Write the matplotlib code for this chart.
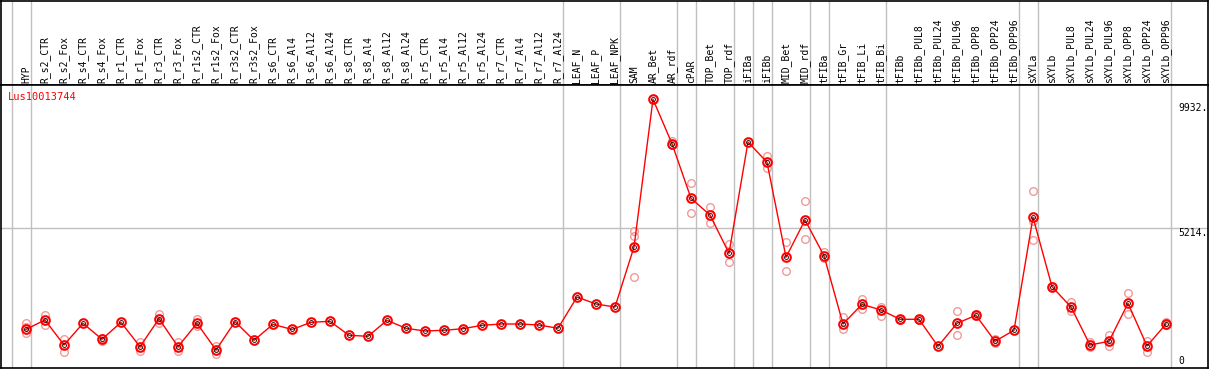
import numpy as np
import matplotlib
matplotlib.use("Agg")
import matplotlib.pyplot as plt
import matplotlib.transforms as mtransforms

labels = ["HYP", "R_s2_CTR", "R_s2_Fox", "R_s4_CTR", "R_s4_Fox", "R_r1_CTR", "R_r1_Fox",
          "R_r3_CTR", "R_r3_Fox", "R_r1s2_CTR", "R_r1s2_Fox", "R_r3s2_CTR", "R_r3s2_Fox",
          "R_s6_CTR", "R_s6_Al4", "R_s6_Al12", "R_s6_Al24", "R_s8_CTR", "R_s8_Al4",
          "R_s8_Al12", "R_s8_Al24", "R_r5_CTR", "R_r5_Al4", "R_r5_Al12", "R_r5_Al24",
          "R_r7_CTR", "R_r7_Al4", "R_r7_Al12", "R_r7_Al24", "LEAF_N", "LEAF_P", "LEAF_NPK",
          "SAM", "AR_Bet", "AR_rdf", "cPAR", "TOP_Bet", "TOP_rdf", "iFIBa", "iFIBb",
          "MID_Bet", "MID_rdf", "tFIBa", "tFIB_Gr", "tFIB_Li", "tFIB_Bi", "tFIBb",
          "tFIBb_PUL8", "tFIBb_PUL24", "tFIBb_PUL96", "tFIBb_OPP8", "tFIBb_OPP24",
          "tFIBb_OPP96", "sXYLa", "sXYLb", "sXYLb_PUL8", "sXYLb_PUL24", "sXYLb_PUL96",
          "sXYLb_OPP8", "sXYLb_OPP24", "sXYLb_OPP96"]

means = [1400, 1751, 808, 1627, 1023, 1664, 744, 1800, 744, 1627, 619, 1687, 985,
         1589, 1393, 1664, 1702, 1174, 1136, 1740, 1438, 1336, 1363, 1423, 1551,
         1600, 1600, 1563, 1438, 2619, 2355, 2242,
         4507, 10081, 8406, 6345, 5714, 4269, 8470, 7704, 4118, 5526, 4178,
         1600, 2344, 2129, 1778, 1778, 759, 1627, 1929, 947, 1363,
         5628, 3008, 2242, 808, 947, 2382, 770, 1600]

reps = [[1627, 1487, 1261], [1929, 1574], [1034, 532], [], [1072, 958], [], [921, 593],
        [1978, 1627], [921, 593], [1778, 1525], [770, 468], [], [], [], [], [], [], [],
        [], [], [], [], [], [], [], [], [], [], [], [], [], [],
        [5099, 4910, 3363], [], [8496, 8368], [6911, 5779], [6016, 5401], [4631, 3929],
        [], [7941, 7477], [4695, 3601], [6232, 4797], [4307, 4091],
        [1853, 1400], [2544, 2155], [2242, 1914], [1760, 1800], [1760, 1800], [],
        [2091, 1185], [1900, 1960], [1023, 872], [],
        [6609, 5488, 4782], [2990, 3030], [2431, 2080], [910, 721], [1185, 759],
        [2770, 1966], [970, 555], [1687, 1560]]

# group separators sit just right of these category indices
separators = [-1, 0, 28, 31, 34, 35, 37, 38, 39, 41, 42, 45, 52, 53, 60]

yticks = [0, 5214, 9932]
title = "Lus10013744"

W, H = 1209, 370
fig = plt.figure(figsize=(W / 100, H / 100), dpi=100)
x0, x1 = 1, 1208
xlim = ((x0 - 26) / 19.0, (x1 - 26) / 19.0)

ax_top = fig.add_axes([x0 / W, (H - 85) / H, (x1 - x0) / W, 84 / H])
ax = fig.add_axes([x0 / W, 2 / H, (x1 - x0) / W, (368 - 85) / H])

grey = "#c0c0c0"
for a in (ax_top, ax):
    a.set_xlim(*xlim)
    a.set_xticks([])
    a.set_yticks([])
    for s in a.spines.values():
        s.set_color("black")
        s.set_linewidth(1.2)
    for sep in separators:
        a.axvline(sep + 0.24, color=grey, lw=1, zorder=0)

ax_top.set_ylim(0, 84)
for i, lab in enumerate(labels):
    ax_top.text(i, 2, lab, rotation=90, ha="center", va="bottom",
                family="DejaVu Sans Mono", fontsize=7, color="black")

ylo = (366.4 - 368) * 37.744
yhi = (366.4 - 85) * 37.744
ax.set_ylim(ylo, yhi)
ax.axhline(5214, color=grey, lw=1, zorder=0)

x = np.arange(len(labels))
for i, r in enumerate(reps):
    if r:
        ax.plot([i] * len(r), r, "o", ms=5.5, mfc="none", mec="#f09a9a", mew=1.0, zorder=2)
ax.plot(x, means, "-", color="red", lw=1, zorder=3)
ax.plot(x, means, "o", ms=6.2, mfc="none", mec="red", mew=1.5, zorder=4)
ax.plot(x, means, "o", ms=2.8, mfc="none", mec="black", mew=0.6, zorder=5)

tr = mtransforms.blended_transform_factory(fig.transFigure, ax.transData)
for v in yticks:
    ax.text(1178 / W, v, f"{v}." if v else "0", transform=tr, ha="left",
            va="bottom" if v == 0 else "top", family="DejaVu Sans Mono", fontsize=7)

fig.text(8 / W, 1 - 97 / H, title, color="red", ha="left", va="center",
         family="DejaVu Sans Mono", fontsize=7.5)

fig.savefig("out.png", dpi=100)
